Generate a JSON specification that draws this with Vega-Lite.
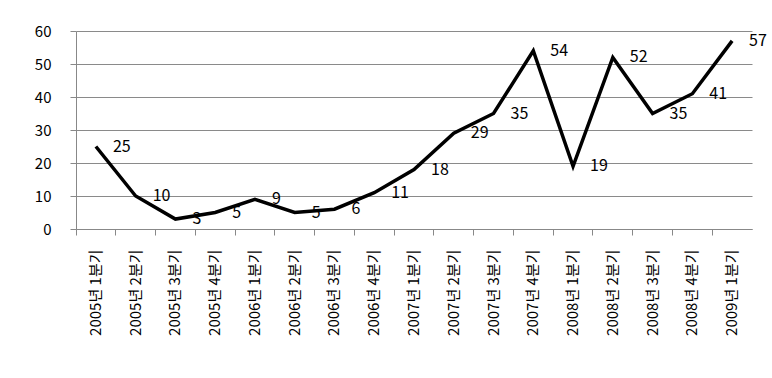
{
  "$schema": "https://vega.github.io/schema/vega-lite/v6.json",
  "autosize": {"type": "none"},
  "width": 676,
  "height": 198,
  "padding": {"left": 76, "top": 31, "right": 20, "bottom": 149},
  "background": "white",
  "data": {
    "values": [
      {"quarter": "2005년 1분기", "value": 25},
      {"quarter": "2005년 2분기", "value": 10},
      {"quarter": "2005년 3분기", "value": 3},
      {"quarter": "2005년 4분기", "value": 5},
      {"quarter": "2006년 1분기", "value": 9},
      {"quarter": "2006년 2분기", "value": 5},
      {"quarter": "2006년 3분기", "value": 6},
      {"quarter": "2006년 4분기", "value": 11},
      {"quarter": "2007년 1분기", "value": 18},
      {"quarter": "2007년 2분기", "value": 29},
      {"quarter": "2007년 3분기", "value": 35},
      {"quarter": "2007년 4분기", "value": 54},
      {"quarter": "2008년 1분기", "value": 19},
      {"quarter": "2008년 2분기", "value": 52},
      {"quarter": "2008년 3분기", "value": 35},
      {"quarter": "2008년 4분기", "value": 41},
      {"quarter": "2009년 1분기", "value": 57}
    ]
  },
  "config": {
    "view": {"stroke": null},
    "axis": {"labelFont": "Noto Sans CJK KR", "labelColor": "black", "titleFont": "Noto Sans CJK KR"}
  },
  "encoding": {
    "y": {
      "field": "value", "type": "quantitative",
      "scale": {"domain": [0, 60], "nice": false},
      "axis": {"values": [0, 10, 20, 30, 40, 50, 60], "labelOverlap": false, "grid": true, "gridColor": "#8a8a8a", "domainColor": "#888888", "tickColor": "#888888", "tickSize": 6, "labelPadding": 19, "labelFontSize": 15, "title": null}
    }
  },
  "layer": [
    {
      "mark": {"type": "line", "color": "black", "strokeWidth": 3.5, "strokeJoin": "miter"},
      "encoding": {
        "x": {
          "field": "quarter", "type": "ordinal", "sort": null,
          "scale": {"type": "band", "paddingInner": 0, "paddingOuter": 0},
          "axis": {"orient": "bottom", "bandPosition": 0, "labels": false, "ticks": true, "tickSize": 6, "domainColor": "#888888", "tickColor": "#888888", "title": null, "grid": false}
        }
      }
    },
    {
      "mark": {"type": "text", "align": "left", "baseline": "middle", "dx": 17, "fontSize": 16, "font": "Noto Sans CJK KR", "color": "black"},
      "encoding": {
        "x": {
          "field": "quarter", "type": "ordinal", "sort": null,
          "axis": {"orient": "bottom", "labelAngle": -90, "ticks": false, "domain": false, "labelPadding": 20, "labelFontSize": 15, "title": null, "grid": false}
        },
        "text": {"field": "value", "type": "quantitative"}
      }
    }
  ],
  "resolve": {"axis": {"x": "independent"}}
}
